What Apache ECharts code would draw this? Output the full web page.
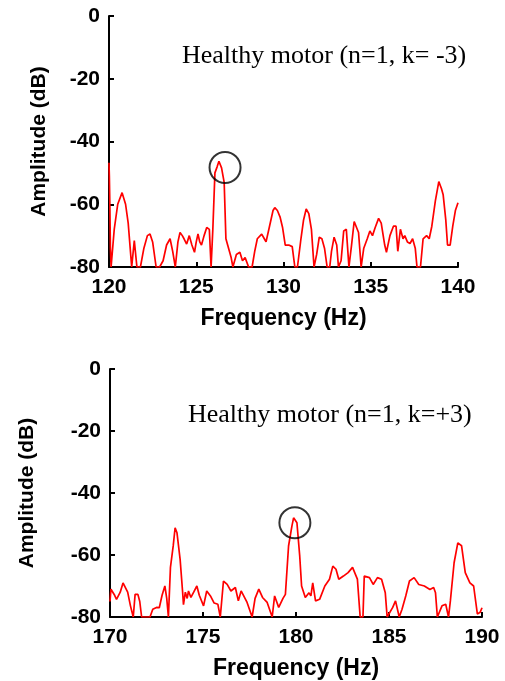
<!DOCTYPE html>
<html>
<head>
<meta charset="utf-8">
<script src="https://cdn.jsdelivr.net/npm/echarts@6/dist/echarts.min.js"></script>
<style>
html,body{margin:0;padding:0;background:#fff;}
#c{width:505px;height:681px;}
</style>
</head>
<body>
<div id="c"></div>
<script>
// ---- Data ----
var titleTop = 'Healthy motor (n=1, k= -3)';
var titleBottom = 'Healthy motor (n=1, k=+3)';
var yTicks = [0, -20, -40, -60, -80];

var freqTop = [120.0,120.02,120.05,120.08,120.12,120.2,120.3,120.5,120.75,120.95,121.1,121.3,121.45,121.6,121.8,122.0,122.2,122.35,122.5,122.7,122.9,123.1,123.3,123.5,123.65,123.8,123.95,124.07,124.2,124.3,124.45,124.6,124.75,124.9,125.0,125.1,125.2,125.3,125.45,125.6,125.75,125.85,125.95,126.07,126.2,126.3,126.45,126.6,126.7,126.8,126.9,127.0,127.1,127.3,127.5,127.65,127.8,128.0,128.2,128.35,128.5,128.75,128.9,129.0,129.2,129.4,129.5,129.65,129.8,129.95,130.1,130.3,130.5,130.65,130.8,131.0,131.15,131.3,131.45,131.6,131.75,131.9,132.05,132.2,132.35,132.5,132.65,132.75,132.9,133.05,133.15,133.3,133.45,133.6,133.75,133.9,134.05,134.15,134.3,134.45,134.6,134.8,134.95,135.1,135.25,135.45,135.6,135.8,135.9,136.1,136.3,136.45,136.55,136.7,136.85,136.95,137.1,137.25,137.4,137.55,137.65,137.85,138.0,138.2,138.35,138.5,138.7,138.9,139.05,139.15,139.3,139.4,139.55,139.7,139.85,140.0];
var ampTop = [-46.8,-51,-60.5,-74,-80,-80,-68,-60,-56.3,-60,-66,-80,-71.6,-80,-80,-74,-70,-69.5,-72,-80,-80,-78,-73,-71,-75,-80,-72,-69,-70,-71,-72.7,-70,-73,-75.3,-72,-69.5,-72,-73,-70,-67.4,-68,-80,-68,-50,-48,-46.3,-48.4,-53,-71,-73,-75,-77,-80,-76,-75.3,-78,-77,-80,-80,-75,-71,-69.5,-71,-72,-67,-62,-61.1,-62,-64,-67.5,-73,-73,-73.5,-80,-80,-71,-65,-61.5,-63,-68,-80,-76,-70.5,-71,-74,-80,-80,-75,-70.5,-73,-80,-78,-68.5,-68,-80,-73,-65.5,-65,-69,-80,-74,-71,-68.5,-70,-67.5,-64.5,-66,-73,-75.3,-70,-67,-67,-75,-68,-71,-70,-72,-72.5,-71,-74,-80,-80,-71,-70,-71,-67,-59,-52.8,-55,-57,-65,-73,-73,-67,-62,-59.5];

var freqBottom = [170.0,170.05,170.15,170.25,170.35,170.45,170.55,170.7,170.8,170.95,171.1,171.25,171.35,171.5,171.6,171.7,172.15,172.3,172.5,172.65,172.8,172.95,173.05,173.14,173.25,173.4,173.5,173.6,173.77,173.9,173.95,174.05,174.15,174.22,174.35,174.5,174.67,174.8,175.03,175.2,175.4,175.6,175.8,175.93,176.1,176.3,176.5,176.74,176.9,177.05,177.37,177.64,177.8,178.0,178.2,178.45,178.72,178.85,179.07,179.3,179.43,179.6,179.78,179.87,180.05,180.2,180.3,180.5,180.7,180.8,180.9,181.05,181.27,181.55,181.8,181.98,182.15,182.3,182.55,182.8,183.04,183.3,183.45,183.6,183.67,183.95,184.15,184.38,184.6,184.8,184.9,185.2,185.35,185.55,185.7,185.9,186.1,186.35,186.6,186.9,187.2,187.4,187.5,187.6,187.85,188.05,188.2,188.3,188.5,188.7,188.9,189.1,189.35,189.55,189.75,189.9,190.0];
var ampBottom = [-75,-71,-72,-73,-74.3,-74.3,-72,-69,-69,-72,-76.4,-80,-72.7,-72.7,-75,-80,-80,-77.5,-76.9,-77,-73,-70,-74,-80,-64,-57,-51.2,-52.8,-61.4,-71.6,-76,-72,-74,-71.6,-73.7,-72,-70,-73,-76.4,-71.6,-73.2,-75.5,-75.9,-80,-68.4,-69.5,-71.6,-70.5,-74.8,-71.6,-75.3,-80,-74,-71,-73.7,-75.3,-80,-73.2,-76.9,-74,-72.7,-57.1,-50.7,-48,-49.6,-60.3,-70,-73.7,-72.2,-73.2,-69,-74.8,-74.3,-70,-67.8,-63.6,-64.6,-67.8,-66.8,-65.7,-64,-67.8,-80,-80,-66.8,-67.3,-69.5,-67.3,-67.8,-72.2,-80,-76.9,-74.8,-80,-77.5,-73.2,-68.4,-67.3,-69.5,-70,-71.1,-70.5,-72.2,-80,-76.4,-75.9,-80,-74.8,-62.5,-56.1,-57,-65.7,-69,-70,-79,-78.5,-77];

// Circle annotations [freq, amplitude]
var circleTop = [126.65, -48.3];
var circleBottom = [179.94, -49.6];

function zip(a, b) { return a.map(function (v, i) { return [v, b[i]]; }); }

var chart = echarts.init(document.getElementById('c'), null, {renderer: 'canvas'});

var axisFont = {fontFamily: 'Liberation Sans, Arial, sans-serif', fontWeight: 'bold', fontSize: 21, color: '#000'};

function xAxis(idx, min, max) {
  return {
    type: 'value', gridIndex: idx, min: min, max: max, interval: 5,
    name: 'Frequency (Hz)', nameLocation: 'middle', nameGap: 40,
    nameTextStyle: {fontFamily: 'Liberation Sans, Arial, sans-serif', fontWeight: 'bold', fontSize: 23, color: '#000'},
    axisLine: {show: true, onZero: false, lineStyle: {color: '#000', width: 2}},
    axisTick: {show: true, inside: true, length: 5, lineStyle: {color: '#000', width: 2}},
    axisLabel: Object.assign({margin: 10, showMinLabel: true, showMaxLabel: true}, axisFont),
    splitLine: {show: false}
  };
}
function yAxis(idx, gap) {
  return {
    type: 'value', gridIndex: idx, min: -80, max: 0, interval: 20,
    name: 'Amplitude (dB)', nameLocation: 'middle', nameGap: gap, nameRotate: 90,
    nameTextStyle: {fontFamily: 'Liberation Sans, Arial, sans-serif', fontWeight: 'bold', fontSize: 21, color: '#000'},
    axisLine: {show: true, onZero: false, lineStyle: {color: '#000', width: 2}},
    axisTick: {show: true, inside: true, length: 5, lineStyle: {color: '#000', width: 2}},
    axisLabel: Object.assign({margin: 9, showMinLabel: true, showMaxLabel: true,
      formatter: function (v) { return String(v); }}, axisFont),
    splitLine: {show: false}
  };
}

var circleStyle = {color: 'rgba(0,0,0,0)', borderColor: '#000', borderWidth: 2};

var option = {
  backgroundColor: '#fff',
  animation: false,
  grid: [
    {left: 109, top: 16, width: 349, height: 251},
    {left: 110, top: 369, width: 372, height: 249}
  ],
  xAxis: [xAxis(0, 120, 140), xAxis(1, 170, 190)],
  yAxis: [yAxis(0, 59), yAxis(1, 72)],
  graphic: [
    {type: 'text', left: 182, top: 43, style: {text: titleTop, font: '26px "Liberation Serif", "Times New Roman", serif', fill: '#000'}},
    {type: 'text', left: 188, top: 402, style: {text: titleBottom, font: '26px "Liberation Serif", "Times New Roman", serif', fill: '#000'}}
  ],
  series: [
    {type: 'line', xAxisIndex: 0, yAxisIndex: 0, data: zip(freqTop, ampTop), showSymbol: false,
     lineStyle: {color: '#ff0000', width: 1.7}, z: 2},
    {type: 'line', xAxisIndex: 1, yAxisIndex: 1, data: zip(freqBottom, ampBottom), showSymbol: false,
     lineStyle: {color: '#ff0000', width: 1.7}, z: 2},
    {type: 'scatter', xAxisIndex: 0, yAxisIndex: 0, data: [circleTop], symbol: 'circle', symbolSize: 31,
     itemStyle: circleStyle, z: 5},
    {type: 'scatter', xAxisIndex: 1, yAxisIndex: 1, data: [circleBottom], symbol: 'circle', symbolSize: 31,
     itemStyle: circleStyle, z: 5}
  ]
};
chart.setOption(option);
</script>
</body>
</html>
